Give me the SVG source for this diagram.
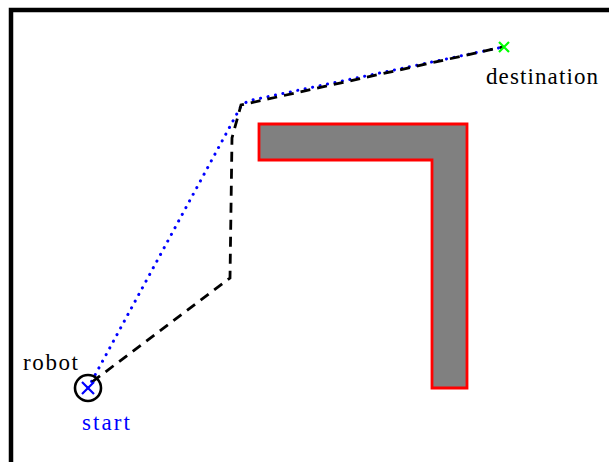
<svg xmlns="http://www.w3.org/2000/svg" width="609" height="462" viewBox="0 0 609 462">
<style>
.lbl{font-family:"Liberation Serif","DejaVu Serif",serif;font-size:23px}
.dash{fill:none;stroke:#000;stroke-width:2.8;stroke-dasharray:10,7}
.dot{fill:none;stroke:#00f;stroke-width:3;stroke-dasharray:0.1,7.5;stroke-linecap:round}
</style>
<rect width="609" height="462" fill="#fff"/>
<path d="M11,470 V10 H620" fill="none" stroke="#000" stroke-width="4.5"/>
<g id="obstacle">
<path d="M259,124 H467 V388 H432 V160 H259 Z" fill="#808080" stroke="#f00" stroke-width="2.8"/>
</g>
<g id="connectors">
<path class="dot" d="M88,388 L240,108 Q244,102 252,100 L503,47"/>
<path class="dash" d="M92,382 L230,278 L232,138 L241,105 L503,47"/>
</g>
<g id="robot">
<circle cx="88" cy="388" r="13" fill="none" stroke="#000" stroke-width="2.6"/>
<path d="M82,382 L94,394 M94,382 L82,394" stroke="#00f" stroke-width="2.2"/>
<text class="lbl" x="23" y="370" textLength="55">robot</text>
<text class="lbl" x="82" y="430" fill="#00f" textLength="48">start</text>
</g>
<g id="destination">
<path d="M499,42 L509,52 M509,42 L499,52" stroke="#0f0" stroke-width="2.2"/>
<text class="lbl" x="486" y="84" textLength="112">destination</text>
</g>
</svg>
